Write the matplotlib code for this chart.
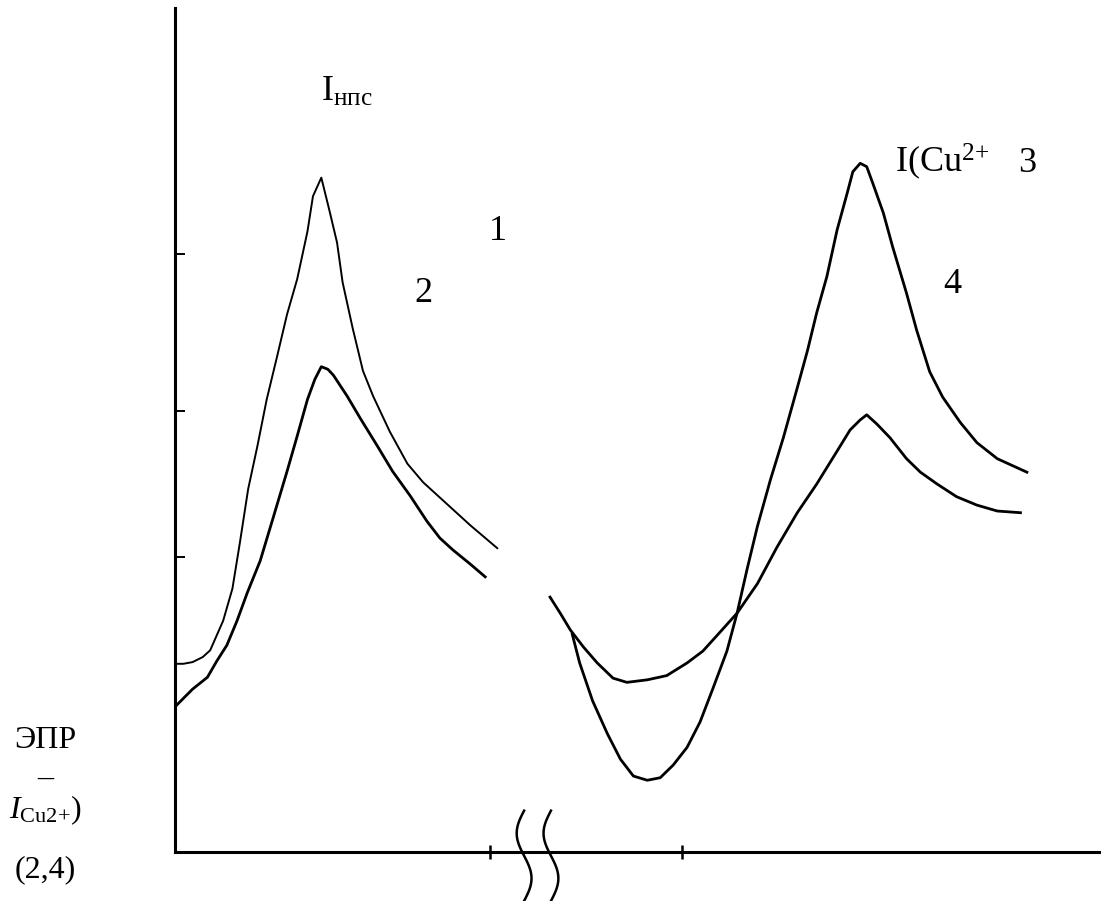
import numpy as np
import matplotlib
matplotlib.use("Agg")
import matplotlib.pyplot as plt

plt.rcParams['font.family'] = ['Liberation Serif', 'DejaVu Serif']
plt.rcParams['mathtext.fontset'] = 'custom'
plt.rcParams['mathtext.rm'] = 'Liberation Serif'
plt.rcParams['mathtext.it'] = 'Liberation Serif:italic'

# curve 1 (I_нпс, upper left)
x1 = [0.0, 0.9, 1.9, 3.0, 3.8, 5.2, 6.2, 7.0, 7.9, 8.9, 9.9, 11.0, 12.1, 13.2,
      14.3, 14.9, 15.8, 16.7, 17.5, 18.1, 19.2, 20.3, 21.4, 23.2, 25.1, 26.8,
      29.4, 31.9, 34.8]
y1 = [22.3, 22.3, 22.5, 23.1, 23.9, 27.4, 31.2, 36.6, 43.0, 48.1, 53.6, 58.6,
      63.7, 67.9, 73.5, 77.7, 79.9, 75.9, 72.2, 67.5, 62.0, 57.0, 54.0, 49.8,
      46.0, 43.8, 41.2, 38.7, 36.0]

# curve 2 (lower left)
x2 = [0.0, 0.9, 1.9, 3.5, 4.5, 5.6, 6.7, 7.8, 9.2, 10.6, 12.1, 13.2, 14.3, 15.1,
      15.8, 16.5, 17.1, 18.6, 20.0, 21.8, 23.5, 25.4, 27.2, 28.6, 30.0, 31.9, 33.5]
y2 = [17.2, 18.2, 19.3, 20.7, 22.6, 24.5, 27.4, 30.7, 34.5, 39.6, 45.1, 49.3,
      53.6, 56.0, 57.5, 57.2, 56.5, 54.0, 51.4, 48.2, 45.1, 42.2, 39.2, 37.2,
      35.8, 34.1, 32.6]

# curve 3 (I(Cu2+), deep minimum, high peak)
x3 = [42.9, 43.7, 45.1, 46.7, 48.1, 49.5, 51.0, 52.4, 53.8, 55.3, 56.7, 58.1,
      59.6, 60.7, 61.8, 62.9, 64.3, 65.7, 67.2, 68.3, 69.3, 70.4, 71.5, 72.6,
      73.2, 74.0, 74.7, 75.4, 76.5, 77.5, 79.0, 80.1, 81.5, 82.9, 84.8, 86.6,
      88.8, 92.0]
y3 = [25.8, 22.4, 17.9, 14.0, 11.0, 9.0, 8.5, 8.8, 10.3, 12.4, 15.4, 19.4,
      23.8, 28.3, 33.6, 38.6, 44.1, 49.1, 55.0, 59.4, 63.9, 68.2, 73.7, 78.1,
      80.6, 81.6, 81.2, 79.1, 75.7, 71.7, 66.2, 61.8, 56.9, 53.9, 50.9, 48.5,
      46.6, 45.0]

# curve 4 (shallow minimum, low peak)
x4 = [40.5, 41.6, 42.7, 44.1, 45.6, 47.3, 48.8, 51.0, 53.1, 55.3, 57.0, 58.9,
      60.7, 62.9, 65.0, 67.2, 69.3, 71.5, 72.9, 74.0, 74.7, 75.8, 77.2, 79.0,
      80.5, 82.3, 84.4, 86.6, 88.8, 91.3]
y4 = [30.2, 28.3, 26.3, 24.3, 22.4, 20.6, 20.1, 20.4, 20.9, 22.4, 23.8, 26.1,
      28.3, 31.8, 36.1, 40.2, 43.6, 47.5, 50.0, 51.2, 51.8, 50.7, 49.1, 46.6,
      45.0, 43.6, 42.1, 41.1, 40.4, 40.2]

y_ticks = [35.0, 52.3, 70.9]
x_ticks = [34.0, 54.8]
break_x = [37.7, 40.6]

fig = plt.figure(figsize=(11.01, 9.01), dpi=100)
ax = fig.add_axes([175 / 1101, 49 / 901, 926 / 1101, 844 / 901])
ax.set_xlim(0, 100)
ax.set_ylim(0, 100)

ax.plot(x1, y1, color='black', lw=1.4, solid_joinstyle='round')
ax.plot(x2, y2, color='black', lw=2.0, solid_joinstyle='round')
ax.plot(x3, y3, color='black', lw=2.0, solid_joinstyle='round')
ax.plot(x4, y4, color='black', lw=2.0, solid_joinstyle='round')

for s in ['top', 'right']:
    ax.spines[s].set_visible(False)
for s in ['left', 'bottom']:
    ax.spines[s].set_linewidth(2.2)

ax.set_yticks(y_ticks)
ax.set_xticks(x_ticks)
ax.set_yticklabels([])
ax.set_xticklabels([])
ax.tick_params(axis='y', direction='in', length=7, width=1.4)
ax.tick_params(axis='x', direction='inout', length=10, width=1.8)

# axis break marks
t = np.linspace(0, 1, 60)
for bx in break_x:
    ax.plot(bx - 0.8 * np.sin(2 * np.pi * t), 4.9 - 10.7 * t,
            color='black', lw=1.8, clip_on=False)

# labels on the curves
ax.text(15.8, 89.0, r'I$_{\mathrm{нпс}}$', fontsize=26, ha='left', va='baseline')
ax.text(33.9, 72.5, '1', fontsize=26)
ax.text(25.9, 65.2, '2', fontsize=26)
ax.text(77.7, 80.6, r'I(Cu$^{2{+}}$', fontsize=26)
ax.text(91.0, 80.6, '3', fontsize=26)
ax.text(83.0, 66.2, '4', fontsize=26)

# labels to the left of the axis
fig.text(45 / 1101, 1 - 748 / 901, 'ЭПР', fontsize=23, ha='center', va='baseline')
fig.text(45 / 1101, 1 - 786 / 901, '–', fontsize=23, ha='center', va='baseline')
fig.text(45 / 1101, 1 - 818 / 901, r'$I_{\mathrm{Cu2{+}}}$)', fontsize=23,
         ha='center', va='baseline')
fig.text(45 / 1101, 1 - 877 / 901, '(2,4)', fontsize=23, ha='center', va='baseline')

fig.savefig('out.png', dpi=100)
